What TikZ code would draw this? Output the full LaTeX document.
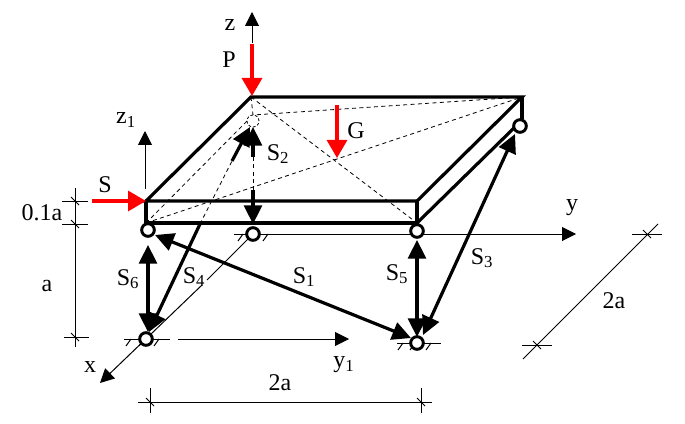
\documentclass[tikz,border=0pt]{standalone}
\usepackage{fontspec}
\setmainfont{Liberation Serif}
\usetikzlibrary{arrows.meta}
\tikzset{
  thinline/.style={line width=0.75pt},
  hiddenline/.style={line width=0.6pt,dash pattern=on 3pt off 2.5pt},
  barline/.style={line width=2.4pt},
  plateline/.style={line width=2.4pt,line join=miter},
  forceline/.style={line width=2.4pt,red,-{Triangle[length=13.5pt,width=15pt]}},
  barend/.tip={Triangle[length=14pt,width=13.5pt]},
  axisend/.tip={Triangle[length=10.5pt,width=10.5pt]},
  hinge/.style={circle,draw,line width=2.2pt,fill=white,inner sep=0pt,minimum size=9.5pt},
  hiddenhinge/.style={circle,draw,line width=0.6pt,dash pattern=on 2pt off 1.5pt,fill=white,inner sep=0pt,minimum size=9pt},
  lab/.style={inner sep=0pt,font=\fontsize{18}{18}\selectfont}
}
\begin{document}
\begin{tikzpicture}[x=0.75pt,y=-0.75pt]
    \useasboundingbox (0,0) rectangle (685,424);
    % plate corners
    \coordinate (fl) at (146,201);
    \coordinate (bl) at (251,97);
    \coordinate (br) at (522,97);
    \coordinate (fr) at (417,201);
    \coordinate (fld) at (146,223);
    \coordinate (frd) at (417,223);
    \coordinate (brd) at (522,119);
    \coordinate (bld) at (253,115);
    % axes
    \draw [thinline,-{axisend}] (253,234) -- (576,234);
    \draw [thinline,-{axisend}] (178,339) -- (349,339);
    \draw [thinline] (253,234) -- (207,280);
    \draw [thinline,-{axisend}] (202,285) -- (100,383);
    \draw [thinline,-{axisend}] (252,43) -- (252,12);
    \draw [thinline,-{axisend}] (145,189) -- (145,131);
    % ground
    \draw [thinline] (124,339) -- (170,339);
    \draw [thinline] (234,234) -- (272,234);
    \draw [thinline] (397,343) -- (441,343);
    \foreach \x in {131,144,159} \draw [thinline] (\x,339) -- (\x-5,346);
    \foreach \x in {243,256,268} \draw [thinline] (\x,234) -- (\x-5,241);
    \foreach \x in {403,415,431} \draw [thinline] (\x,343) -- (\x-5,350);
    % hidden lines
    \draw [hiddenline] (bl) -- (bld) -- (br);
    \draw [hiddenline] (fld) -- (bld);
    \draw [hiddenline] (fld) -- (br);
    \draw [hiddenline] (bl) -- (frd);
    \draw [hiddenline] (253,157) -- (253,190);
    \draw [hiddenline] (200,224) -- (232,161);
    % plate
    \draw [plateline] (fl) -- (bl) -- (br) -- (fr) -- cycle;
    \draw [plateline] (fl) -- (fld) -- (frd) -- (fr);
    \draw [plateline] (br) -- (brd);
    \draw [plateline] (frd) -- (515,127);
    % bars
    \draw [barline,{barend}-{barend}] (148,245) -- (148,332);
    \draw [barline,{barend}-{barend}] (417,240) -- (417,337);
    \draw [barline,{barend}-{barend}] (155,235) -- (411,338);
    \draw [barline,{barend}-{barend}] (423,335) -- (515,134);
    \draw [barline,{barend}-] (149,332) -- (200,224);
    \draw [barline,-{barend}] (232,161) -- (250,127);
    \draw [barline,-{barend}] (253,157) -- (253,127);
    \draw [barline,-{barend}] (253,190) -- (253,224);
    % hinges
    \node [hinge] (h1) at (148,230) {};
    \node [hiddenhinge] (h2up) at (253,121) {};
    \node [hinge] (h2) at (253,234) {};
    \node [hinge] (h3) at (417,231) {};
    \node [hinge] (h4) at (520,126) {};
    \node [hinge] (b1) at (146,339) {};
    \node [hinge] (b2) at (417,343) {};
    % loads
    \draw [forceline] (252,44) -- (252,96);
    \draw [forceline] (92,201) -- (146,201);
    \draw [forceline] (337,105) -- (337,158);
    % dimensions
    \draw [thinline] (75,188) -- (75,347);
    \draw [thinline] (62,201) -- (88,201);
    \draw [thinline] (62,224) -- (88,224);
    \draw [thinline] (64,337) -- (89,337);
    \foreach \y in {201,224,337} \draw [thinline] (71,\y-4) -- (79,\y+4);
    \draw [thinline] (138,402) -- (432,402);
    \draw [thinline] (150,388) -- (150,413);
    \draw [thinline] (421,388) -- (421,413);
    \foreach \x in {150,421} \draw [thinline] (\x-4,398) -- (\x+4,406);
    \draw [thinline] (523,359) -- (658,224);
    \draw [thinline] (522,345) -- (552,345);
    \draw [thinline] (632,234) -- (662,234);
    \draw [thinline] (533,341) -- (541,349);
    \draw [thinline] (643,230) -- (651,238);
    % labels
    \node [lab] (labz) at (230,25) {z};
    \node [lab] (labP) at (229,60) {P};
    \node [lab] (labzo) at (126,120) {z\textsubscript{1}};
    \node [lab] (labS) at (105,185) {S};
    \node [lab] (labG) at (356,131) {G};
    \node [lab] (labhh) at (42,213) {0.1a};
    \node [lab] (laba) at (47,286) {a};
    \node [lab] (labone) at (304,277) {S\textsubscript{1}};
    \node [lab] (labtwo) at (278,154) {S\textsubscript{2}};
    \node [lab] (labthree) at (482,258) {S\textsubscript{3}};
    \node [lab] (labfour) at (194,277) {S\textsubscript{4}};
    \node [lab] (labfive) at (397,274) {S\textsubscript{5}};
    \node [lab] (labsix) at (128,279) {S\textsubscript{6}};
    \node [lab] (laby) at (572,208) {y};
    \node [lab] (labyo) at (344,365) {y\textsubscript{1}};
    \node [lab] (labx) at (90,367) {x};
    \node [lab] (labw) at (280,383) {2a};
    \node [lab] (labd) at (614,301) {2a};
  \end{tikzpicture}
\end{document}
